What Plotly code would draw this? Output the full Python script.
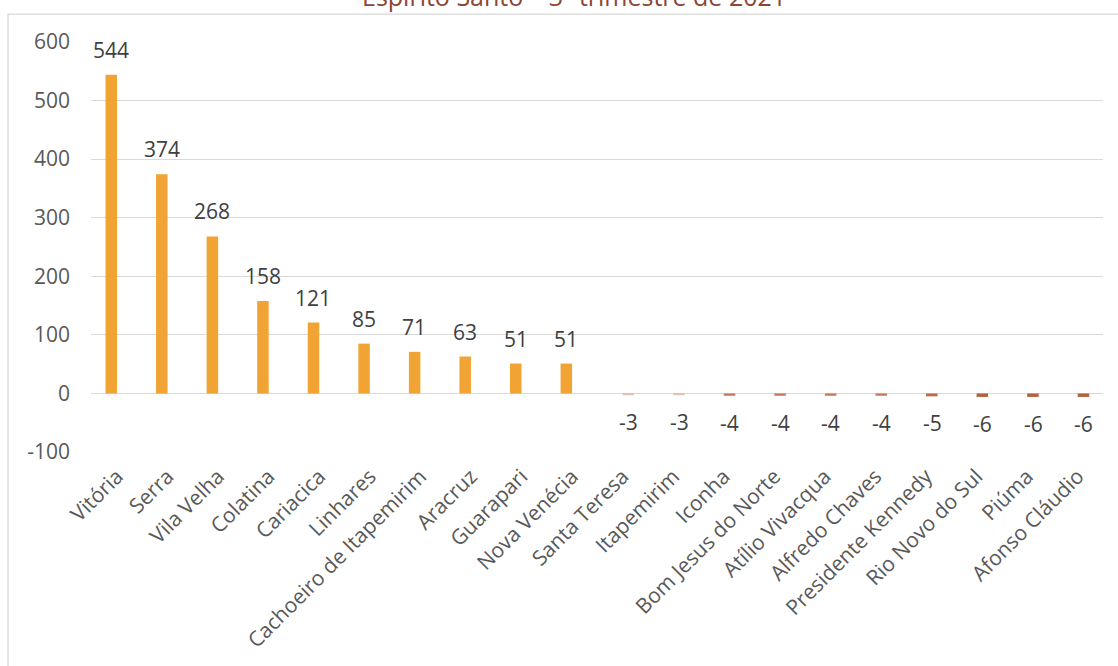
import plotly.graph_objects as go

categories = ["Vitória", "Serra", "Vila Velha", "Colatina", "Cariacica", "Linhares",
              "Cachoeiro de Itapemirim", "Aracruz", "Guarapari", "Nova Venécia",
              "Santa Teresa", "Itapemirim", "Iconha", "Bom Jesus do Norte", "Atílio Vivacqua",
              "Alfredo Chaves", "Presidente Kennedy", "Rio Novo do Sul", "Piúma", "Afonso Cláudio"]
positive_values = [544, 374, 268, 158, 121, 85, 71, 63, 51, 51] + [None] * 10
negative_values = [None] * 10 + [-3, -3, -4, -4, -4, -4, -5, -6, -6, -6]
neg_colors = ["#E5BFB2", "#E5BFB2", "#C47A5D", "#C47A5D", "#C47A5D", "#C47A5D",
              "#BD6C4E", "#B5633F", "#B5633F", "#B5633F"]
title_text = "Espírito Santo – 3º trimestre de 2021"
y_ticks = [-100, 0, 100, 200, 300, 400, 500, 600]
y_ticktext = ["-100", "0", "100", "200", "300", "400", "500", "600"]

FONT = "Open Sans"
fig = go.Figure()
fig.add_trace(go.Bar(x=categories, y=positive_values, marker_color="#F1A433",
                     marker_line_width=0, name="pos"))
fig.add_trace(go.Bar(x=categories, y=negative_values,
                     marker_color=["#FFFFFF"] * 10 + neg_colors,
                     marker_line_width=0, name="neg"))

annotations = []
for c, v in zip(categories, positive_values):
    if v is not None:
        annotations.append(dict(x=c, y=v, xref="x", yref="y", text=str(v), showarrow=False,
                                xshift=-6, yshift=25, font=dict(family=FONT, size=21, color="#404040")))
for c, v in zip(categories, negative_values):
    if v is not None:
        annotations.append(dict(x=c, y=v, xref="x", yref="y", text=str(v), showarrow=False,
                                xshift=6, yshift=-27, font=dict(family=FONT, size=21, color="#404040")))
annotations.append(dict(x=0.477, y=1.0659, xref="paper", yref="paper", text=title_text,
                        showarrow=False, yanchor="bottom",
                        font=dict(family=FONT, size=25, color="#8A4636")))

fig.update_layout(
    width=1118, height=666,
    margin=dict(l=91, r=15, t=42, b=214),
    paper_bgcolor="white", plot_bgcolor="white",
    barmode="group", bargap=0.545, bargroupgap=0,
    showlegend=False,
    annotations=annotations,
    font=dict(family=FONT, color="#595959"),
    shapes=[dict(type="rect", xref="paper", yref="paper",
                 x0=-0.082, x1=1.03, y0=-0.56, y1=1.068,
                 line=dict(color="#D9D9D9", width=1.3), fillcolor="rgba(0,0,0,0)", layer="below")],
)
fig.update_xaxes(type="category", tickangle=-45, showgrid=False, showline=False, zeroline=False,
                 tickfont=dict(family=FONT, size=21, color="#595959"), ticks="", ticklabelstandoff=7,
                 automargin=False)
fig.update_yaxes(range=[-100, 600], tickvals=y_ticks, ticktext=y_ticktext, showgrid=True,
                 gridcolor="#D9D9D9", gridwidth=1.3, zeroline=True, zerolinecolor="#D9D9D9",
                 zerolinewidth=1.3, showline=False, ticks="",
                 tickfont=dict(family=FONT, size=21, color="#595959"),
                 ticklabelstandoff=20, automargin=False)

fig.write_html("out.html", config={"displayModeBar": False},
               post_script="document.body.style.margin='0px';")
